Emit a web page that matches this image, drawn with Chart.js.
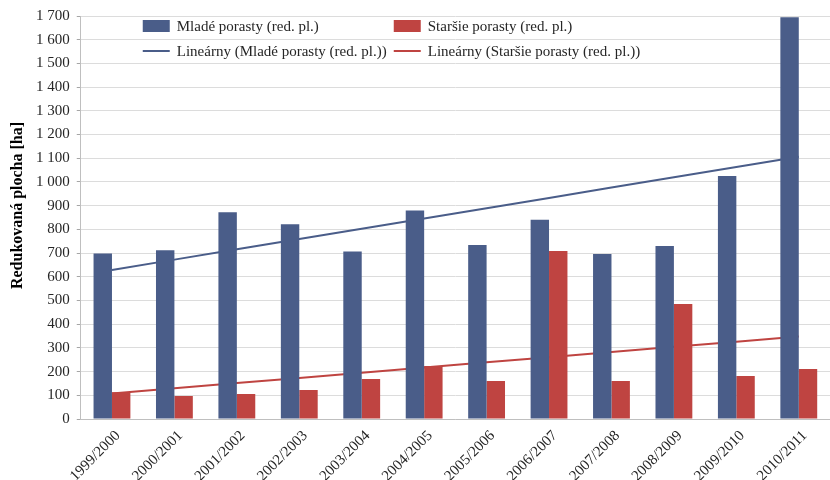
<!DOCTYPE html>
<html>
<head>
<meta charset="utf-8">
<script src="https://cdn.jsdelivr.net/npm/chart.js@4/dist/chart.umd.min.js"></script>
<style>
  html, body { margin: 0; padding: 0; background: #fff; }
  #wrap { width: 830px; height: 480px; }
</style>
</head>
<body>
<div id="wrap"><canvas id="plocha"></canvas></div>
<script>
'use strict';

var seasons = ['1999/2000', '2000/2001', '2001/2002', '2002/2003', '2003/2004', '2004/2005',
    '2005/2006', '2006/2007', '2007/2008', '2008/2009', '2009/2010', '2010/2011'];
var youngStands = [698, 712, 872, 822, 707, 880, 734, 840, 696, 730, 1025, 1695];
var olderStands = [113, 97, 105, 122, 169, 224, 160, 709, 160, 485, 181, 211];
var yTicks = { min: 0, max: 1700, step: 100 };
var yTitle = 'Redukovaná plocha [ha]';

var BLUE = '#4a5d89';
var RED = '#bf4441';
var FONT = '"Liberation Serif", "Times New Roman", serif';

// least squares line, like Excel "Lineárny" trendline
function linearTrend(values) {
    var n = values.length, sx = 0, sy = 0, sxy = 0, sxx = 0;
    values.forEach(function (y, i) {
        var x = i + 1;
        sx += x; sy += y; sxy += x * y; sxx += x * x;
    });
    var b = (n * sxy - sx * sy) / (n * sxx - sx * sx);
    var a = (sy - b * sx) / n;
    return values.map(function (y, i) { return a + b * (i + 1); });
}

function spaced(v) {
    return String(v).replace(/\B(?=(\d{3})+(?!\d))/g, ' ');
}

// legend drawn inside the plot in two columns, plus the axis title a bit above centre
var overlayLegend = {
    id: 'overlayLegend',
    afterDraw: function (chart) {
        var ctx = chart.ctx;
        var area = chart.chartArea;
        var cols = [area.left + 62, area.left + 313];
        var rows = [area.top + 10, area.top + 35];
        ctx.save();
        ctx.font = '15px ' + FONT;
        ctx.textBaseline = 'middle';
        chart.data.datasets.forEach(function (ds, i) {
            var x = cols[i % 2];
            var y = rows[Math.floor(i / 2)];
            if (ds.type === 'line') {
                ctx.strokeStyle = ds.borderColor;
                ctx.lineWidth = 2;
                ctx.beginPath();
                ctx.moveTo(x, y);
                ctx.lineTo(x + 27, y);
                ctx.stroke();
            } else {
                ctx.fillStyle = ds.backgroundColor;
                ctx.fillRect(x, y - 6, 27, 12);
            }
            ctx.fillStyle = '#262626';
            ctx.fillText(ds.label, x + 34, y + 1);
        });

        ctx.translate(18, (area.top + area.bottom) / 2 - 12);
        ctx.rotate(-Math.PI / 2);
        ctx.font = 'bold 16px ' + FONT;
        ctx.textAlign = 'center';
        ctx.fillStyle = '#000';
        ctx.fillText(yTitle, 0, 0);
        ctx.restore();
    }
};

var config = {
    type: 'bar',
    data: {
        labels: seasons,
        datasets: [{
            label: 'Mladé porasty (red. pl.)',
            data: youngStands,
            backgroundColor: BLUE,
            order: 1
        }, {
            label: 'Staršie porasty (red. pl.)',
            data: olderStands,
            backgroundColor: RED,
            order: 1
        }, {
            type: 'line',
            label: 'Lineárny (Mladé porasty (red. pl.))',
            data: linearTrend(youngStands),
            borderColor: BLUE,
            borderWidth: 2,
            pointRadius: 0,
            order: 2
        }, {
            type: 'line',
            label: 'Lineárny (Staršie porasty (red. pl.))',
            data: linearTrend(olderStands),
            borderColor: RED,
            borderWidth: 2,
            pointRadius: 0,
            order: 2
        }]
    },
    options: {
        responsive: true,
        maintainAspectRatio: false,
        animation: false,
        categoryPercentage: 0.59,
        barPercentage: 1.0,
        layout: { padding: { top: 8, right: 0, left: 29, bottom: 0 } },
        plugins: {
            legend: { display: false },
            tooltip: { enabled: false }
        },
        scales: {
            x: {
                grid: { display: false },
                border: { color: '#bfbfbf' },
                afterFit: function (scale) { scale.height = 61; },
                ticks: {
                    color: '#262626',
                    font: { family: FONT, size: 15 },
                    minRotation: 45,
                    maxRotation: 45,
                    padding: 0,
                    labelOffset: 6
                }
            },
            y: {
                min: yTicks.min,
                max: yTicks.max,
                grid: { color: '#dcdcdc', tickColor: '#a6a6a6', tickLength: 4 },
                border: { color: '#bfbfbf' },
                ticks: {
                    stepSize: yTicks.step,
                    color: '#262626',
                    font: { family: FONT, size: 15 },
                    padding: 7,
                    callback: function (v) { return spaced(v); }
                }
            }
        }
    },
    plugins: [overlayLegend]
};

window.onload = function () {
    var ctx = document.getElementById('plocha').getContext('2d');
    window.plochaChart = new Chart(ctx, config);
};
</script>
</body>
</html>
